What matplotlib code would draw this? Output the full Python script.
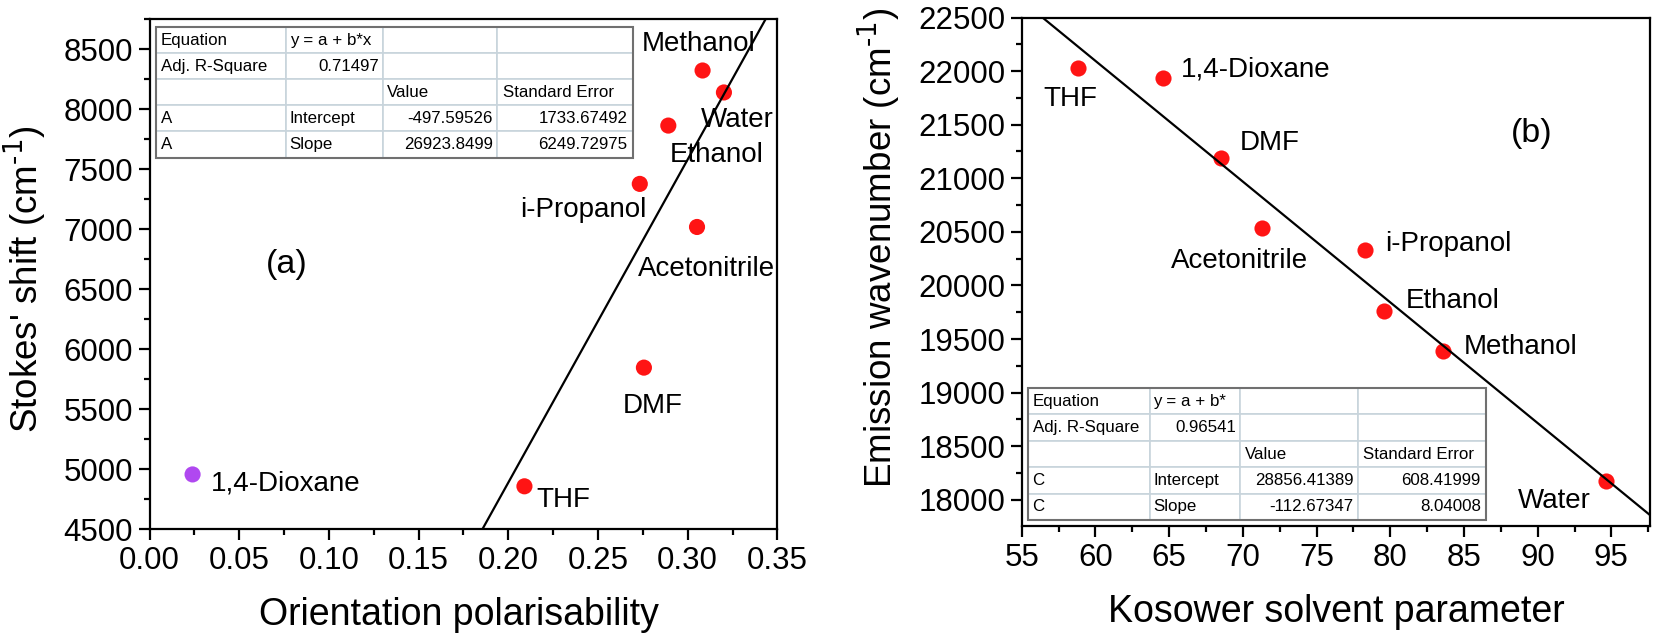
import numpy as np
import matplotlib
matplotlib.use("Agg")
import matplotlib.pyplot as plt
from matplotlib.patches import Rectangle
from matplotlib.ticker import MultipleLocator

plt.rcParams['font.family'] = ['Liberation Sans', 'DejaVu Sans']
plt.rcParams['mathtext.default'] = 'regular'

# panel (a): Stokes' shift vs orientation polarisability
solvents_a = ["1,4-Dioxane", "THF", "DMF", "Acetonitrile", "i-Propanol", "Ethanol", "Water", "Methanol"]
polar_a = [0.024, 0.209, 0.2756, 0.3052, 0.2733, 0.2892, 0.3202, 0.3083]
stokes_a = [4955, 4856, 5845, 7017, 7376, 7862, 8138, 8321]
colors_a = ["#b048f0"] + ["#ff1414"] * 7
intercept_a = -497.59526
slope_a = 26923.8499
table_a = [["Equation", "y = a + b*x", "", ""],
           ["Adj. R-Square", "0.71497", "", ""],
           ["", "", "Value", "Standard Error"],
           ["A", "Intercept", "-497.59526", "1733.67492"],
           ["A", "Slope", "26923.8499", "6249.72975"]]

# panel (b): emission wavenumber vs Kosower parameter
solvents_b = ["THF", "1,4-Dioxane", "DMF", "Acetonitrile", "i-Propanol", "Ethanol", "Methanol", "Water"]
kosower_b = [58.8, 64.6, 68.5, 71.3, 78.3, 79.6, 83.6, 94.65]
emission_b = [22025, 21934, 21189, 20532, 20330, 19764, 19388, 18179]
intercept_b = 28856.41389
slope_b = -112.67347
table_b = [["Equation", "y = a + b*", "", ""],
           ["Adj. R-Square", "0.96541", "", ""],
           ["", "", "Value", "Standard Error"],
           ["C", "Intercept", "28856.41389", "608.41999"],
           ["C", "Slope", "-112.67347", "8.04008"]]

fig = plt.figure(figsize=(16.54, 6.38), dpi=100)
ax1 = fig.add_axes([0.0904, 0.1708, 0.3796, 0.7994])
ax2 = fig.add_axes([0.6177, 0.1755, 0.3797, 0.797])


def style_axes(ax):
    for s in ax.spines.values():
        s.set_linewidth(1.6)
    ax.tick_params(which='both', direction='out', top=False, right=False,
                   labelsize=22.5, width=1.6)
    ax.tick_params(which='major', length=8, pad=4)
    ax.tick_params(which='minor', length=4.5)


def draw_table(ax, rows, bbox, widths):
    tot = sum(widths)
    tb = ax.table(cellText=rows, colWidths=[w / tot for w in widths],
                  bbox=bbox, cellLoc='left')
    tb.auto_set_font_size(False)
    tb.set_fontsize(12.2)
    for (r, c), cell in tb.get_celld().items():
        cell.set_edgecolor("#c8d4dc")
        cell.set_linewidth(1.2)
        txt = cell.get_text()
        if (r == 1 and c == 1) or (r >= 3 and c >= 2):
            cell._loc = 'right'
            txt.set_ha('right')
        cell.PAD = 0.04
    tb.set_zorder(5)
    ax.add_patch(Rectangle((bbox[0], bbox[1]), bbox[2], bbox[3], transform=ax.transAxes,
                           fill=False, edgecolor="#707070", linewidth=1.5, zorder=6))


# ---- (a)
ax1.scatter(polar_a, stokes_a, s=135, c=colors_a, zorder=2, linewidths=0)
xl = np.array([0.0, 0.35])
ax1.plot(xl, intercept_a + slope_a * xl, color='black', lw=1.6, zorder=3)
ax1.set_xlim(0, 0.35)
ax1.set_ylim(4500, 8750)
ax1.xaxis.set_major_locator(MultipleLocator(0.05))
ax1.xaxis.set_minor_locator(MultipleLocator(0.025))
ax1.yaxis.set_major_locator(MultipleLocator(500))
ax1.yaxis.set_minor_locator(MultipleLocator(250))
ax1.xaxis.set_major_formatter(matplotlib.ticker.FormatStrFormatter('%.2f'))
style_axes(ax1)
ax1.set_xlabel("Orientation polarisability", fontsize=27)
ax1.set_ylabel("Stokes' shift (cm$^{\\text{-1}}$)", fontsize=26.5)
ax1.xaxis.set_label_coords(0.493, -0.168)
ax1.xaxis.label.set_va('center')
ax1.yaxis.set_label_coords(-0.198, 0.49)
ax1.yaxis.label.set_va('center')

labels_a = {"1,4-Dioxane": (0.034, 4880, 'left'), "THF": (0.2304, 4744, 'center'),
            "DMF": (0.2807, 5528, 'center'), "Acetonitrile": (0.3105, 6667, 'center'),
            "i-Propanol": (0.2417, 7159, 'center'), "Ethanol": (0.316, 7618, 'center'),
            "Water": (0.3276, 7905, 'center'), "Methanol": (0.306, 8542, 'center')}
for name, (x, y, ha) in labels_a.items():
    ax1.text(x, y, name, fontsize=20, ha=ha, va='center', zorder=4)
ax1.text(0.0765, 6708, "(a)", fontsize=24.5, ha='center', va='center')
draw_table(ax1, table_a, [0.0097, 0.7284, 0.760, 0.2553], [130.1, 97, 114.7, 135.6])

# ---- (b)
ax2.scatter(kosower_b, emission_b, s=135, c="#ff1414", zorder=2, linewidths=0)
xl = np.array([55, 97.6])
ax2.plot(xl, intercept_b + slope_b * xl, color='black', lw=1.6, zorder=3)
ax2.set_xlim(55, 97.6)
ax2.set_ylim(17755, 22500)
ax2.xaxis.set_major_locator(MultipleLocator(5))
ax2.xaxis.set_minor_locator(MultipleLocator(2.5))
ax2.yaxis.set_major_locator(MultipleLocator(500))
ax2.yaxis.set_minor_locator(MultipleLocator(250))
style_axes(ax2)
ax2.set_xlabel("Kosower solvent parameter", fontsize=27)
ax2.set_ylabel("Emission wavenumber (cm$^{\\text{-1}}$)", fontsize=26.5)
ax2.xaxis.set_label_coords(0.501, -0.170)
ax2.xaxis.label.set_va('center')
ax2.yaxis.set_label_coords(-0.227, 0.547)
ax2.yaxis.label.set_va('center')

labels_b = {"THF": (58.3, 21740, 'center'), "1,4-Dioxane": (65.8, 22017, 'left'),
            "DMF": (71.8, 21325, 'center'), "Acetonitrile": (69.8, 20231, 'center'),
            "i-Propanol": (79.67, 20391, 'left'), "Ethanol": (81.07, 19851, 'left'),
            "Methanol": (85.0, 19429, 'left'), "Water": (91.1, 17992, 'center')}
for name, (x, y, ha) in labels_b.items():
    ax2.text(x, y, name, fontsize=20, ha=ha, va='center', zorder=4)
ax2.text(89.6, 21421, "(b)", fontsize=24.5, ha='center', va='center')
draw_table(ax2, table_b, [0.0096, 0.0116, 0.7293, 0.26], [123.6, 91.5, 119.8, 129.1])

fig.savefig("out.png", dpi=100)
